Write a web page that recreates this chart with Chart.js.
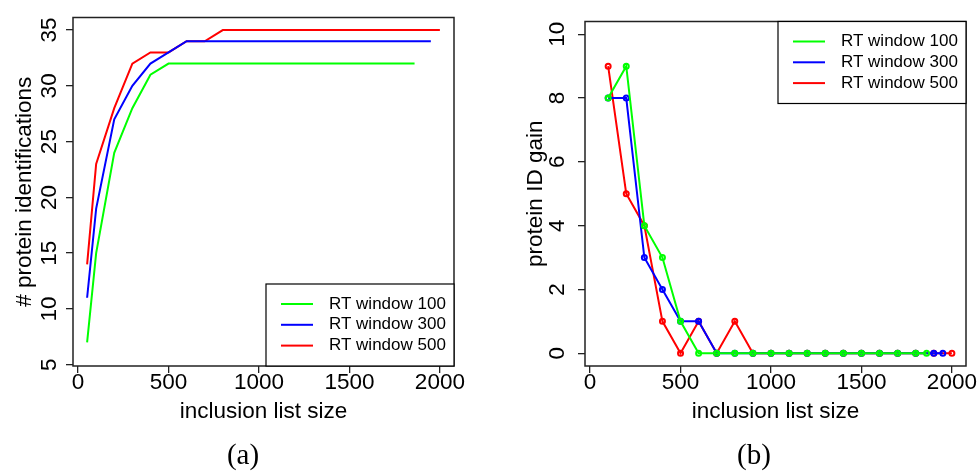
<!DOCTYPE html>
<html>
<head>
<meta charset="utf-8">
<script src="https://cdn.jsdelivr.net/npm/chart.js@4/dist/chart.umd.min.js"></script>
<style>
  html, body { margin: 0; padding: 0; background: #fff; }
  #wrap { position: relative; width: 980px; height: 472px; overflow: hidden; }
  canvas { position: absolute; top: 0; }
  #chartA { left: 0; }
  #chartB { left: 490px; }
  .caption {
    position: absolute; top: 440px; width: 200px; text-align: center;
    font-family: 'Liberation Serif', 'DejaVu Serif', serif; font-size: 29px; line-height: 29px; color: #000;
  }
</style>
</head>
<body>
<div id="wrap">
  <canvas id="chartA" width="490" height="472"></canvas>
  <canvas id="chartB" width="490" height="472"></canvas>
  <div class="caption" style="left:143px">(a)</div>
  <div class="caption" style="left:654px">(b)</div>
</div>
<script>
// inclusion list sizes per RT window
const sizes100 = [50, 100, 200, 300, 400, 500, 600, 700, 800, 900, 1000, 1100, 1200, 1300, 1400, 1500, 1600, 1700, 1800, 1860];
const sizes300 = [50, 100, 200, 300, 400, 500, 600, 700, 800, 900, 1000, 1100, 1200, 1300, 1400, 1500, 1600, 1700, 1800, 1900, 1950];
const sizes500 = [50, 100, 200, 300, 400, 500, 600, 700, 800, 900, 1000, 1100, 1200, 1300, 1400, 1500, 1600, 1700, 1800, 1900, 2000];

// cumulative protein identifications
const ids100 = [7, 15, 24, 28, 31, 32, 32, 32, 32, 32, 32, 32, 32, 32, 32, 32, 32, 32, 32, 32];
const ids300 = [11, 19, 27, 30, 32, 33, 34, 34, 34, 34, 34, 34, 34, 34, 34, 34, 34, 34, 34, 34, 34];
const ids500 = [14, 23, 28, 32, 33, 33, 34, 34, 35, 35, 35, 35, 35, 35, 35, 35, 35, 35, 35, 35, 35];

// protein ID gain between consecutive list sizes (starts at 100)
const gain100 = [8, 9, 4, 3, 1, 0, 0, 0, 0, 0, 0, 0, 0, 0, 0, 0, 0, 0, 0];
const gain300 = [8, 8, 3, 2, 1, 1, 0, 0, 0, 0, 0, 0, 0, 0, 0, 0, 0, 0, 0, 0];
const gain500 = [9, 5, 4, 1, 0, 1, 0, 1, 0, 0, 0, 0, 0, 0, 0, 0, 0, 0, 0, 0];

const seriesNames = ['RT window 100', 'RT window 300', 'RT window 500'];
const seriesColors = ['#00ff00', '#0000ff', '#ff0000'];

const sizeTicks = [0, 500, 1000, 1500, 2000];
const idTicks = [5, 10, 15, 20, 25, 30, 35];
const gainTicks = [0, 2, 4, 6, 8, 10];

Chart.defaults.font.family = "'Liberation Sans', Arial, Helvetica, sans-serif";
Chart.defaults.color = '#000';

const axisFont = { size: 22.5 };

function toPoints(xs, ys) {
    return xs.map((x, i) => ({ x: x, y: ys[i] }));
}

// R-style frame around the plot region
const frameBox = {
    id: 'frameBox',
    afterDatasetsDraw(chart) {
        const { ctx, chartArea: a } = chart;
        ctx.save();
        ctx.strokeStyle = '#222';
        ctx.lineWidth = 1.5;
        ctx.strokeRect(a.left, a.top, a.right - a.left, a.bottom - a.top);
        ctx.restore();
    }
};

// boxed legend sitting in a corner of the plot region
const legendBox = {
    id: 'legendBox',
    afterDraw(chart, args, opts) {
        const { ctx, chartArea: a } = chart;
        const w = 188, h = 82;
        const x0 = a.right - w;
        const y0 = opts.corner === 'top' ? a.top : a.bottom - h;
        ctx.save();
        ctx.fillStyle = '#fff';
        ctx.fillRect(x0, y0, w, h);
        ctx.strokeStyle = '#000';
        ctx.lineWidth = 1.2;
        ctx.strokeRect(x0, y0, w, h);
        ctx.font = "17px 'Liberation Sans', Arial, sans-serif";
        ctx.textBaseline = 'middle';
        chart.data.datasets.forEach((ds, i) => {
            const y = y0 + 20 + i * 20.8;
            ctx.strokeStyle = ds.borderColor;
            ctx.lineWidth = 2;
            ctx.beginPath();
            ctx.moveTo(x0 + 15, y);
            ctx.lineTo(x0 + 47, y);
            ctx.stroke();
            ctx.fillStyle = '#000';
            ctx.fillText(ds.label, x0 + 63, y);
        });
        ctx.restore();
    }
};

const tickGrid = { drawOnChartArea: false, drawTicks: true, tickLength: 7, color: '#222', lineWidth: 1.3 };

function xScale() {
    return {
        type: 'linear',
        min: -28,
        max: 2078,
        afterBuildTicks: s => { s.ticks = sizeTicks.map(v => ({ value: v })); },
        afterFit: s => { s.height = 106; },
        border: { display: false },
        grid: tickGrid,
        ticks: { font: axisFont, padding: -4, maxRotation: 0, autoSkip: false, callback: v => String(v) },
        title: { display: true, text: 'inclusion list size', font: axisFont, padding: { top: 0, bottom: 47 } }
    };
}

function yScale(min, max, tickList, width, pad, label, titlePad) {
    return {
        min: min,
        max: max,
        afterBuildTicks: s => { s.ticks = tickList.map(v => ({ value: v })); },
        afterFit: s => { s.width = width; },
        border: { display: false },
        grid: tickGrid,
        ticks: {
            font: axisFont, padding: pad, minRotation: 90, maxRotation: 90,
            crossAlign: 'center', autoSkip: false, callback: v => String(v)
        },
        title: { display: true, text: label, font: axisFont, padding: { top: titlePad, bottom: 0 } }
    };
}

// left panel: identifications vs list size
new Chart(document.getElementById('chartA'), {
    type: 'line',
    data: {
        datasets: [
            { label: seriesNames[0], data: toPoints(sizes100, ids100) },
            { label: seriesNames[1], data: toPoints(sizes300, ids300) },
            { label: seriesNames[2], data: toPoints(sizes500, ids500) }
        ].map((ds, i) => Object.assign(ds, {
            borderColor: seriesColors[i], borderWidth: 2, pointRadius: 0, tension: 0, fill: false
        }))
    },
    options: {
        responsive: false,
        animation: false,
        layout: { padding: { left: 0, right: 36, top: 13, bottom: 0 } },
        scales: {
            x: xScale(),
            y: yScale(4.88, 36.13, idTicks, 73, 4, '# protein identifications', 11)
        },
        plugins: {
            legend: { display: false },
            tooltip: { enabled: false },
            legendBox: { corner: 'bottom' }
        }
    },
    plugins: [frameBox, legendBox]
});

// right panel: gain per step, lines with open circles
new Chart(document.getElementById('chartB'), {
    type: 'line',
    data: {
        datasets: [
            { label: seriesNames[0], data: toPoints(sizes100.slice(1), gain100) },
            { label: seriesNames[1], data: toPoints(sizes300.slice(1), gain300) },
            { label: seriesNames[2], data: toPoints(sizes500.slice(1), gain500) }
        ].map((ds, i) => Object.assign(ds, {
            borderColor: seriesColors[i], borderWidth: 2, tension: 0, fill: false,
            pointRadius: 2.5, pointBorderWidth: 2,
            pointBorderColor: seriesColors[i], pointBackgroundColor: 'rgba(0,0,0,0)'
        }))
    },
    options: {
        responsive: false,
        animation: false,
        layout: { padding: { left: 0, right: 14, top: 13, bottom: 0 } },
        scales: {
            x: xScale(),
            y: yScale(-0.4, 10.4, gainTicks, 95, 8, 'protein ID gain', 32)
        },
        plugins: {
            legend: { display: false },
            tooltip: { enabled: false },
            legendBox: { corner: 'top' }
        }
    },
    plugins: [frameBox, legendBox]
});
</script>
</body>
</html>
